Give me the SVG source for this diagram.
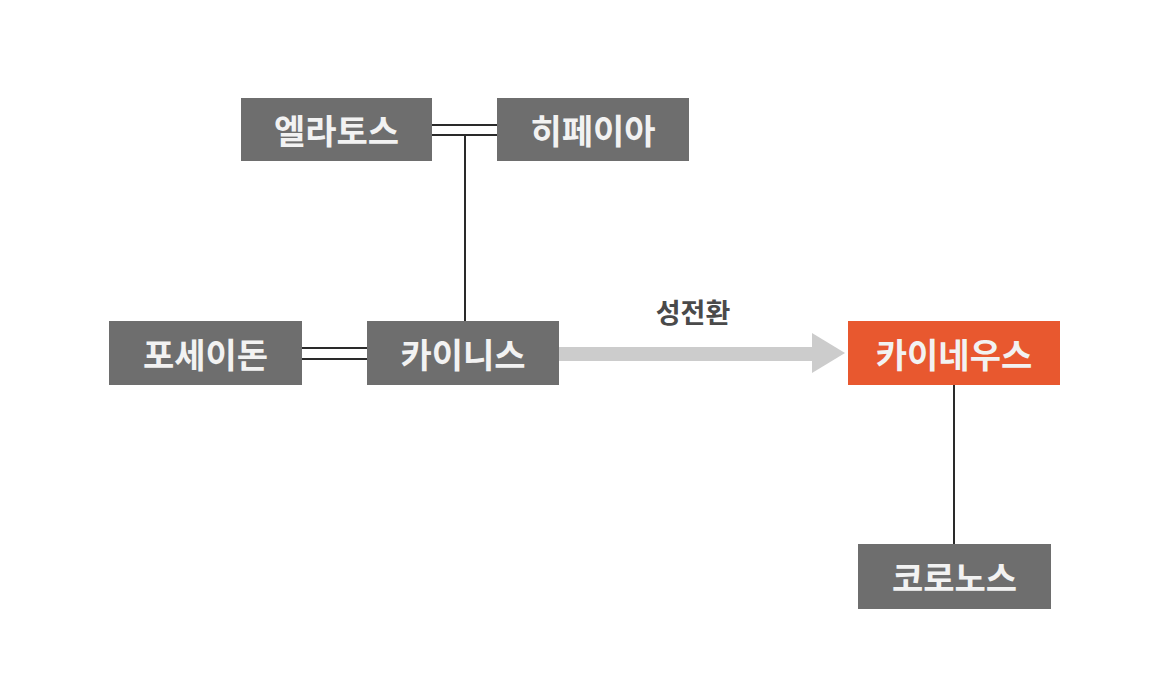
<svg xmlns="http://www.w3.org/2000/svg" width="1170" height="688" viewBox="0 0 1170 688">
<style>
.box{fill:#6e6e6e}
.hot{fill:#e8582f}
.t{font-family:"Noto Sans CJK KR","Noto Sans",sans-serif;font-size:34px;font-weight:700;fill:#f2f2f2;text-anchor:middle;dominant-baseline:central}
.ln{stroke:#2a2a2a;stroke-width:2;fill:none}
.lbl{font-family:"Noto Sans CJK KR","Noto Sans",sans-serif;font-size:27px;font-weight:700;fill:#4a4a4a;text-anchor:middle}
</style>
<rect width="1170" height="688" fill="#ffffff"/>
<g id="connectors">
<line class="ln" x1="432" y1="125" x2="497" y2="125"/>
<line class="ln" x1="432" y1="135" x2="497" y2="135"/>
<line class="ln" x1="465" y1="135" x2="465" y2="321"/>
<line class="ln" x1="302" y1="348" x2="367" y2="348"/>
<line class="ln" x1="302" y1="359" x2="367" y2="359"/>
<line class="ln" x1="954" y1="385" x2="954" y2="545"/>
<g id="arrow">
<rect x="559" y="347" width="254" height="14" fill="#cccccc"/>
<polygon points="812,333 845,353 812,373" fill="#cccccc"/>
<text class="lbl" x="693" y="323">성전환</text>
</g>
</g>
<g id="n-elatos"><rect class="box" x="241" y="98" width="191" height="63"/><text class="t" x="336.5" y="129.5">엘라토스</text></g>
<g id="n-hippeia"><rect class="box" x="497" y="98" width="192" height="63"/><text class="t" x="593" y="129.5">히페이아</text></g>
<g id="n-poseidon"><rect class="box" x="109" y="321" width="193" height="64"/><text class="t" x="205.5" y="353">포세이돈</text></g>
<g id="n-kainis"><rect class="box" x="367" y="321" width="192" height="64"/><text class="t" x="463" y="353">카이니스</text></g>
<g id="n-kaineus"><rect class="hot" x="848" y="321" width="212" height="64"/><text class="t" x="954" y="353">카이네우스</text></g>
<g id="n-kronos"><rect class="box" x="858" y="544" width="193" height="65"/><text class="t" x="954.5" y="576.5">코로노스</text></g>
</svg>
